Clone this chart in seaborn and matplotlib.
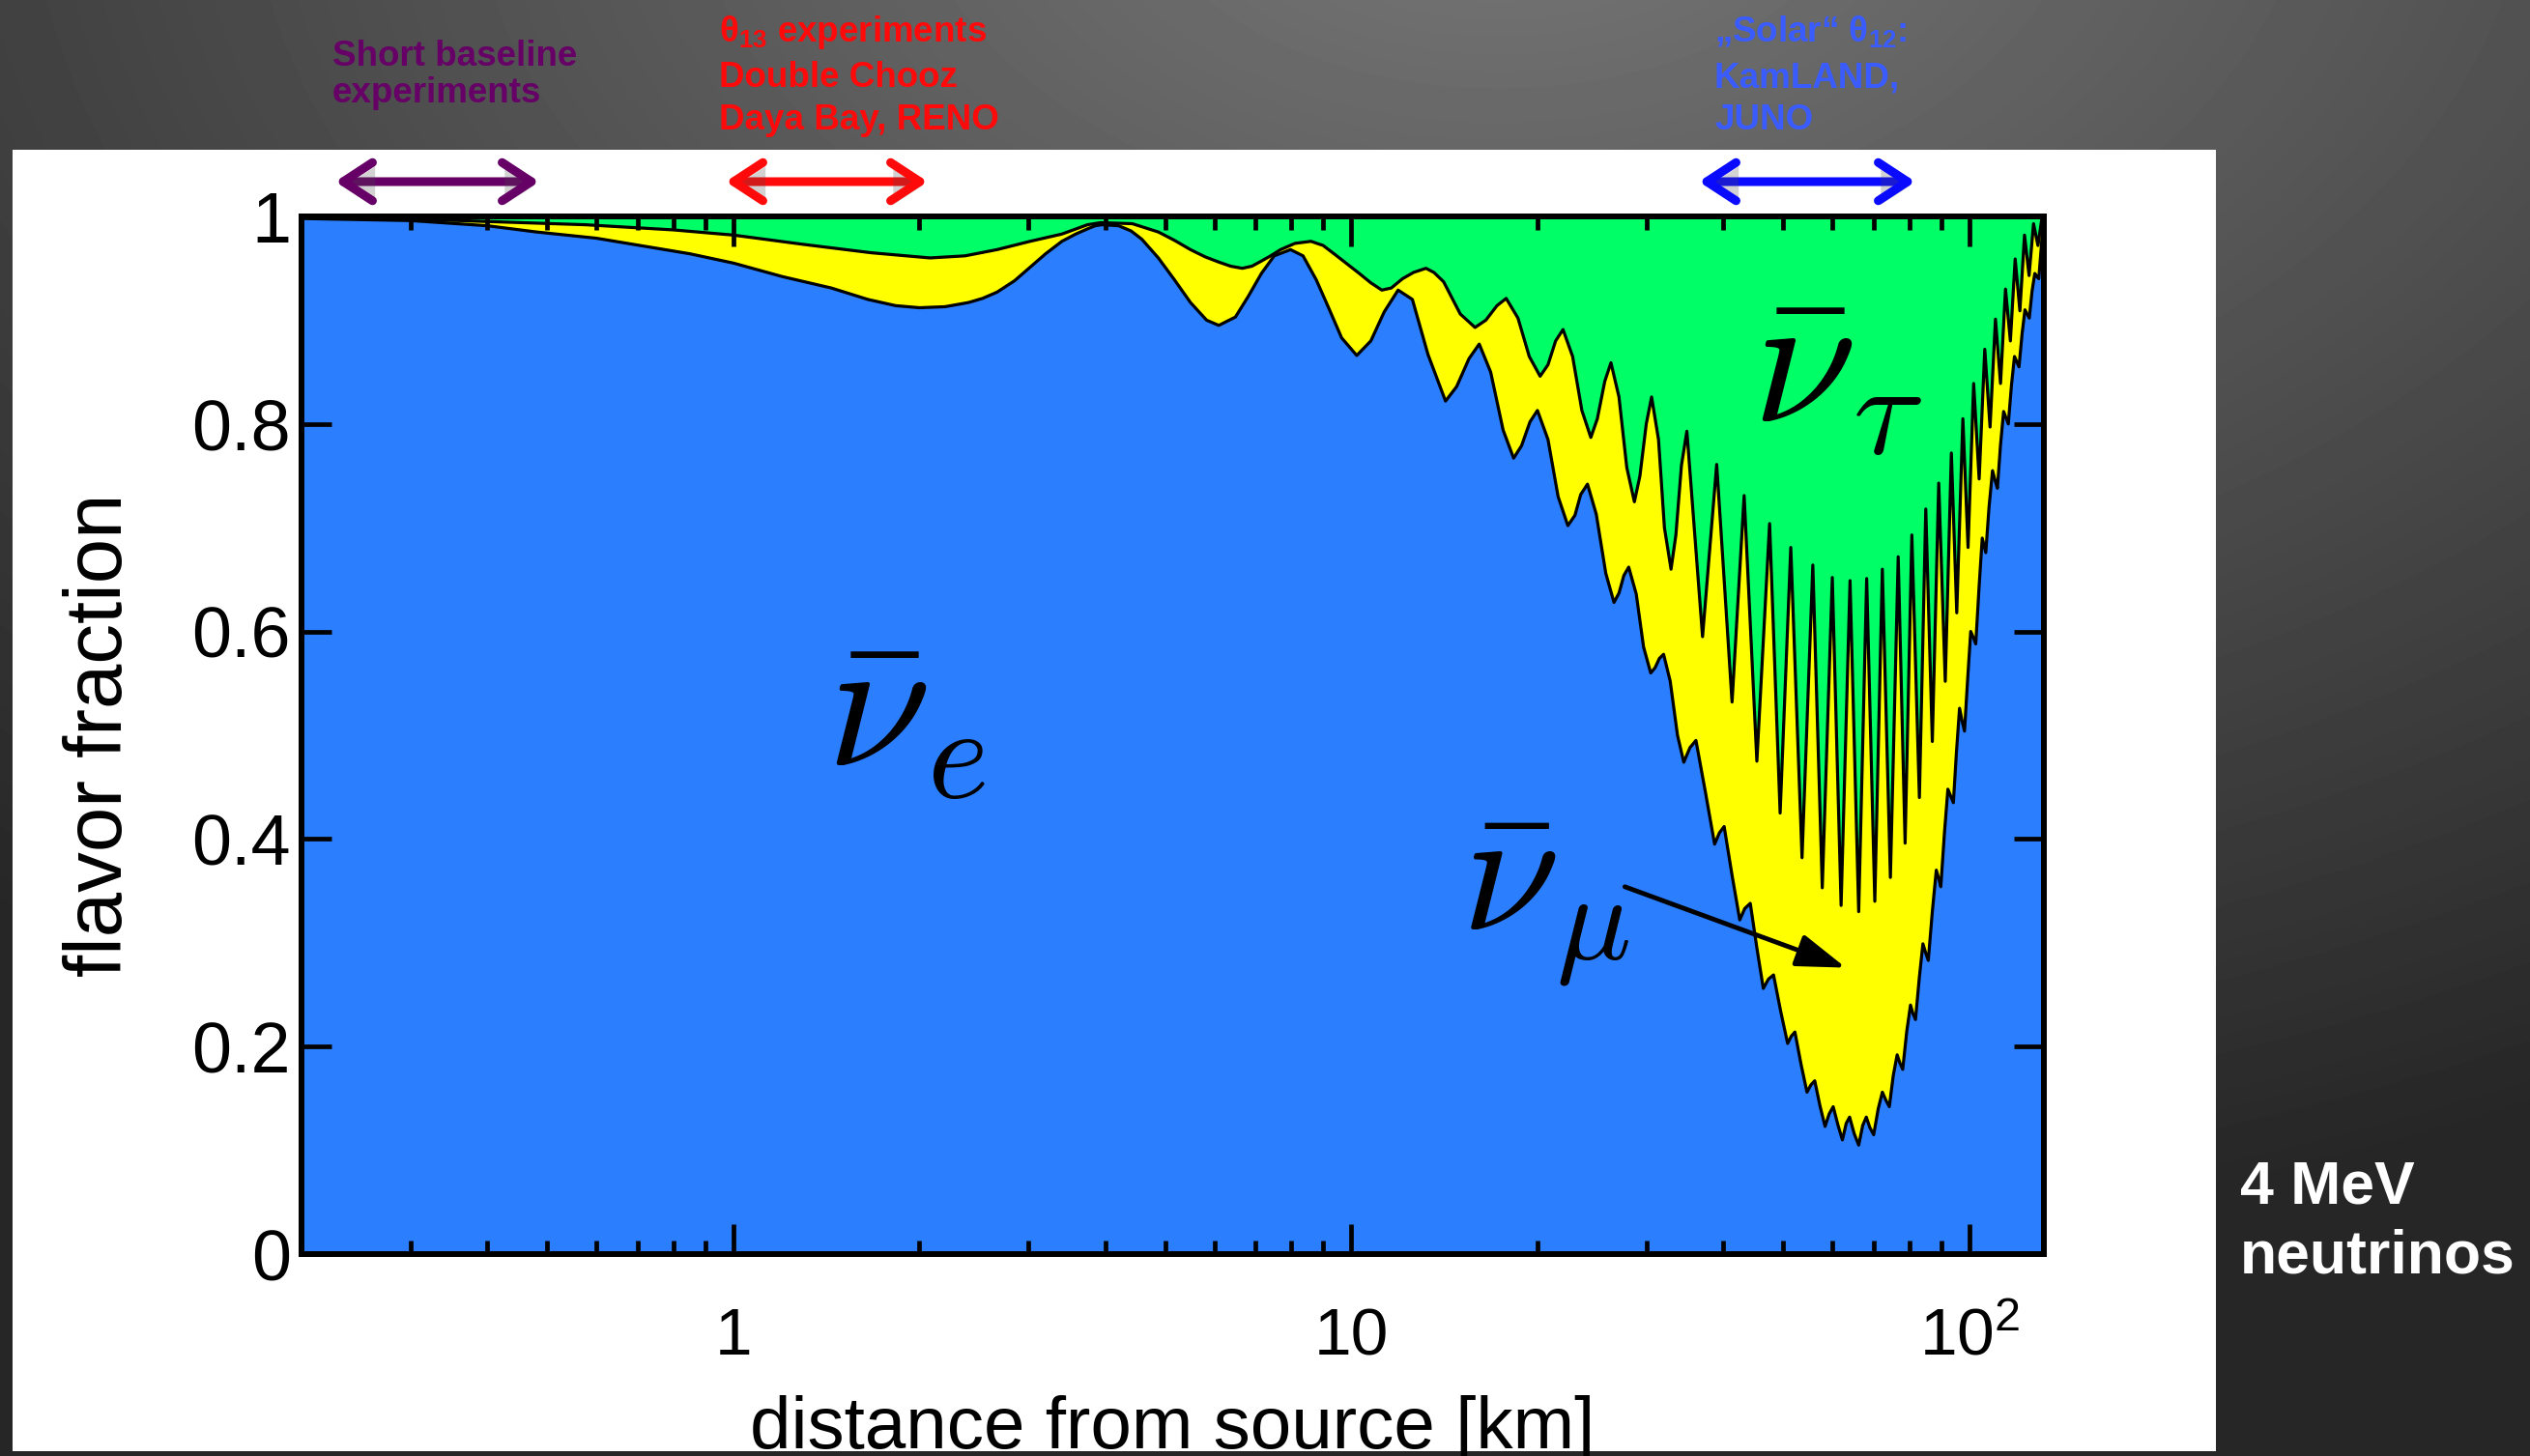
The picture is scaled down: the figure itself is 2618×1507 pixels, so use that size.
import numpy as np
import matplotlib
matplotlib.use("Agg")
import matplotlib.pyplot as plt
import matplotlib.patheffects as pe
import seaborn as sns
from matplotlib.patches import Rectangle
from matplotlib.ticker import FixedLocator, FixedFormatter, NullFormatter

# ---------------------------------------------------------------------------
# Flavor content of a 4 MeV anti-nu_e beam versus baseline
# ---------------------------------------------------------------------------
# lower boundary: anti-nu_e survival fraction
ee_km = [0.20, 0.30, 0.40, 0.48, 0.60, 0.69, 0.85, 1.00, 1.20, 1.44, 1.65, 1.83,
         2.00, 2.20, 2.40, 2.53, 2.67, 2.85, 3.02, 3.20, 3.40, 3.58, 3.74, 3.85,
         3.95, 4.20, 4.40, 4.58, 4.87, 5.17,
         5.49, 5.83, 6.10, 6.49, 6.81, 7.15, 7.50, 7.97, 8.35, 8.77, 9.20, 9.64,
         10.2, 10.75, 11.3, 11.9, 12.55, 13.3, 14.2, 14.8, 15.5, 16.1, 16.8, 17.6,
         18.3, 18.85, 19.45, 20.0, 20.8, 21.6, 22.4, 23.0, 23.5, 24.1, 24.9, 25.8,
         26.6, 27.1, 27.6, 28.1, 28.9, 29.7, 30.5, 31.0, 31.5, 32.0, 32.8, 33.7,
         34.5, 35.3, 36.1, 37.4, 38.7, 39.4, 40.1, 41.3, 42.5, 43.3, 44.2, 45.3,
         46.4, 47.3, 48.2, 49.5, 50.8, 51.5, 52.2, 53.4, 54.6, 55.4, 56.2, 57.3,
         58.4, 59.3, 60.2, 61.3, 62.3, 63.2, 64.0, 65.1, 66.2, 67.2, 68.1, 69.0,
         70.0, 71.2, 72.3, 73.3, 74.2, 75.3, 76.4, 77.2, 78.0, 79.2, 80.3, 81.0,
         81.8, 83.0, 84.1, 85.0, 85.8, 87.1, 88.4, 89.2, 89.9, 91.1, 92.3, 93.3,
         94.2, 95.3, 96.4, 97.3, 98.2, 99.4, 100.5, 101.5, 102.4, 103.7, 104.9,
         105.6, 106.3, 107.6, 109.0, 110.0, 111.0, 112.3, 113.6, 114.6, 115.6,
         117.0, 118.3, 119.3, 120.3, 121.7, 123.0, 124.0, 125.0, 126.3, 127.6,
         128.6, 129.5, 130.5, 131.3, 132.0]
ee_frac = [0.998, 0.996, 0.991, 0.985, 0.979, 0.973, 0.964, 0.955, 0.942, 0.931, 0.920, 0.914,
           0.912, 0.913, 0.917, 0.921, 0.927, 0.938, 0.951, 0.964, 0.976, 0.983, 0.988, 0.991,
           0.992, 0.991, 0.986, 0.978, 0.960, 0.939,
           0.917, 0.900, 0.895, 0.903, 0.923, 0.945, 0.962, 0.968, 0.962, 0.939, 0.911, 0.883,
           0.866, 0.880, 0.908, 0.929, 0.920, 0.867, 0.822, 0.836, 0.863, 0.877, 0.850, 0.794,
           0.767, 0.779, 0.802, 0.813, 0.785, 0.730, 0.702, 0.712, 0.732, 0.742, 0.713, 0.656,
           0.628, 0.637, 0.654, 0.662, 0.636, 0.585, 0.560, 0.565, 0.574, 0.578, 0.552, 0.500,
           0.474, 0.488, 0.495, 0.445, 0.395, 0.406, 0.412, 0.365, 0.322, 0.333, 0.338, 0.295,
           0.256, 0.265, 0.269, 0.234, 0.203, 0.210, 0.214, 0.183, 0.156, 0.163, 0.167, 0.143,
           0.123, 0.135, 0.142, 0.124, 0.110, 0.126, 0.132, 0.116, 0.105, 0.124, 0.132, 0.122,
           0.115, 0.140, 0.156, 0.148, 0.142, 0.172, 0.192, 0.184, 0.178, 0.215, 0.240, 0.232,
           0.226, 0.267, 0.299, 0.290, 0.283, 0.330, 0.370, 0.362, 0.354, 0.405, 0.448, 0.441,
           0.435, 0.484, 0.526, 0.514, 0.504, 0.556, 0.600, 0.594, 0.588, 0.644, 0.690,
           0.683, 0.676, 0.720, 0.755, 0.746, 0.738, 0.780, 0.812, 0.806, 0.800,
           0.838, 0.865, 0.860, 0.855, 0.887, 0.910, 0.906, 0.902, 0.928, 0.945,
           0.942, 0.940, 0.965, 0.985, 0.995]

# upper boundary: anti-nu_e + anti-nu_mu (everything below the anti-nu_tau share)
emu_km = [0.20, 0.36, 0.575, 0.80, 1.00, 1.30, 1.67, 2.08, 2.37, 2.67, 3.02, 3.40,
          3.74, 3.93, 4.42, 4.87, 5.17, 5.49, 5.80, 6.10, 6.38, 6.66, 6.90, 7.15,
          7.40, 7.68, 8.10, 8.60, 9.00, 9.42, 9.85, 10.3, 10.75,
          11.2, 11.6, 12.1, 12.6, 13.2, 13.6, 14.1, 15.0, 15.85, 16.5, 17.2, 17.8, 18.6, 19.4, 20.2,
          20.8, 21.4, 22.0, 22.8, 23.6, 24.4, 25.0, 25.7, 26.3, 27.1, 27.9, 28.7,
          29.3, 30.0, 30.6, 31.4, 32.1, 32.9, 33.5, 34.2, 34.9, 37.0, 39.0, 41.3,
          43.2, 45.3, 47.5, 49.4, 51.4, 53.6, 55.8, 57.8, 60.0, 62.0, 64.1, 66.2,
          68.2, 70.3, 72.3, 74.5, 76.7, 78.7, 80.7, 83.0, 85.0, 87.1, 89.2, 91.4,
          93.5, 95.4, 97.6, 99.5, 101.6, 103.7, 105.9, 108.0, 110.2, 112.3, 114.4,
          116.5, 118.6, 120.7, 122.8, 124.9, 127.0, 129.1, 131.0, 132.0]
emu_frac = [0.999, 0.996, 0.992, 0.987, 0.982, 0.973, 0.965, 0.960, 0.962, 0.968, 0.976, 0.983,
            0.992, 0.994, 0.993, 0.985, 0.977, 0.968, 0.961, 0.956, 0.952, 0.950, 0.952, 0.957,
            0.962, 0.968, 0.974, 0.976, 0.972, 0.963, 0.954, 0.945, 0.936,
            0.929, 0.931, 0.940, 0.946, 0.950, 0.946, 0.937, 0.906, 0.893, 0.900, 0.914, 0.921, 0.902, 0.865, 0.846,
            0.857, 0.880, 0.891, 0.865, 0.813, 0.787, 0.805, 0.841, 0.859, 0.826, 0.758, 0.725,
            0.750, 0.800, 0.826, 0.785, 0.700, 0.660, 0.693, 0.760, 0.793, 0.595, 0.761, 0.532,
            0.731, 0.475, 0.704, 0.425, 0.681, 0.382, 0.664, 0.353, 0.652, 0.336, 0.649, 0.330,
            0.651, 0.340, 0.660, 0.363, 0.672, 0.396, 0.693, 0.440, 0.718, 0.494, 0.743, 0.552,
            0.772, 0.618, 0.805, 0.681, 0.839, 0.747, 0.872, 0.797, 0.901, 0.839, 0.930,
            0.880, 0.959, 0.909, 0.982, 0.943, 0.993, 0.972, 0.998, 0.999]

x_major = [1, 10, 100]
x_major_labels = ["1", "10", r"$10^{2}$"]
x_minor = [0.3, 0.4, 0.5, 0.6, 0.7, 0.8, 0.9, 2, 3, 4, 5, 6, 7, 8, 9,
           20, 30, 40, 50, 60, 70, 80, 90]
y_major = [0, 0.2, 0.4, 0.6, 0.8, 1.0]
y_major_labels = ["0", "0.2", "0.4", "0.6", "0.8", "1"]

experiment_notes = [
    (["Short baseline", "experiments"], "#660066"),
    ([r"θ$_{\mathbf{13}}$ experiments", "Double Chooz", "Daya Bay, RENO"], "#ff0a0a"),
    ([r"„Solar“ θ$_{\mathbf{12}}$:", "KamLAND,", "JUNO"], "#3a5cff"),
]

BLUE = "#2b7fff"
YELLOW = "#ffff00"
GREEN = "#00ff66"

# ---------------------------------------------------------------------------
sns.set_theme(style="ticks")
plt.rcParams["font.family"] = ["Liberation Sans", "DejaVu Sans"]
plt.rcParams["mathtext.fontset"] = "custom"
plt.rcParams["mathtext.rm"] = "Liberation Sans"
plt.rcParams["mathtext.bf"] = "Liberation Sans:bold"
plt.rcParams["mathtext.it"] = "Liberation Sans:italic"
for key in ["text.color", "axes.labelcolor", "xtick.color", "ytick.color", "axes.edgecolor"]:
    plt.rcParams[key] = "black"

W, H = 2618, 1507
fig = plt.figure(figsize=(W / 100, H / 100), dpi=100)

# slide background: dark grey radial shading with a white plot panel
bg = fig.add_axes([0, 0, 1, 1], zorder=-5)
yy, xx = np.mgrid[0:H:4, 0:W:4]
r = np.hypot((xx - 1550) / 1.6, yy + 150)
shade = np.clip(120 - 0.056 * r, 38, 255) / 255.0
bg.imshow(shade, cmap="gray", vmin=0, vmax=1, extent=(0, W, H, 0),
          interpolation="bilinear", aspect="auto")
bg.set_xlim(0, W)
bg.set_ylim(H, 0)
bg.axis("off")
bg.add_patch(Rectangle((13, 155), 2280, 1347, facecolor="white", edgecolor="none"))

# experiment range markers above the plot
arrow_spans = [(347, 558, "#660066"), (751, 960, "#ff0a0a"), (1758, 1982, "#0a0aff")]
for x0, x1, col in arrow_spans:
    bg.annotate("", xy=(x1, 188), xytext=(x0, 188),
                arrowprops=dict(arrowstyle="<->,head_length=1.45,head_width=0.95",
                                mutation_scale=15, lw=6.5, color=col,
                                shrinkA=0, shrinkB=0, capstyle="round", joinstyle="round",
                                path_effects=[pe.SimplePatchShadow(offset=(2, -3), alpha=0.25),
                                              pe.Normal()]))

note_x = [344, 744, 1774]
note_baselines = [[68, 106], [43, 90, 134], [43, 90, 134]]
for (lines, col), x0, ys in zip(experiment_notes, note_x, note_baselines):
    for line, y0 in zip(lines, ys):
        bg.text(x0, y0, line, color=col, fontsize=26.5, fontweight="bold",
                ha="left", va="baseline")

bg.text(2318, 1245, "4 MeV", color="white", fontsize=45, fontweight="bold",
        ha="left", va="baseline")
bg.text(2318, 1317, "neutrinos", color="white", fontsize=45, fontweight="bold",
        ha="left", va="baseline")

# main stacked flavour plot
ax = fig.add_axes([312 / W, 1 - 1298 / H, (2115 - 312) / W, (1298 - 224) / H])
ax.set_xscale("log")
ax.fill_between([0.2, 132], 0, 1, color=GREEN, lw=0)
ax.fill_between(emu_km, 0, emu_frac, color=YELLOW, lw=0)
ax.fill_between(ee_km, 0, ee_frac, color=BLUE, lw=0)
sns.lineplot(x=np.array(emu_km), y=np.array(emu_frac), sort=False, estimator=None,
             color="black", linewidth=2.3, ax=ax)
sns.lineplot(x=np.array(ee_km), y=np.array(ee_frac), sort=False, estimator=None,
             color="black", linewidth=2.3, ax=ax)
ax.set_xlim(0.2, 132)
ax.set_ylim(0, 1)
ax.set_axisbelow(False)

ax.xaxis.set_major_locator(FixedLocator(x_major))
ax.xaxis.set_major_formatter(FixedFormatter(x_major_labels))
ax.xaxis.set_minor_locator(FixedLocator(x_minor))
ax.xaxis.set_minor_formatter(NullFormatter())
ax.yaxis.set_major_locator(FixedLocator(y_major))
ax.yaxis.set_major_formatter(FixedFormatter(y_major_labels))
ax.tick_params(which="both", direction="in", top=True, right=True, width=3.4, color="black")
ax.tick_params(which="major", length=22, labelsize=50)
ax.tick_params(axis="y", which="major", labelsize=53, pad=8)
ax.tick_params(which="minor", length=10)
ax.tick_params(axis="x", which="major", pad=39)
for s in ax.spines.values():
    s.set_linewidth(4.3)
    s.set_color("black")
    s.set_visible(True)

ax.set_xlabel("distance from source [km]", fontsize=55)
ax.xaxis.set_label_coords(0.5, -0.136)
ax.set_ylabel("flavor fraction", fontsize=60)
ax.yaxis.set_label_coords(-0.094, 0.5)

# flavour labels
ax.text(1.90, 0.517, r"$\bar{\nu}_e$", fontsize=140, math_fontfamily="cm",
        ha="center", va="center")
ax.text(61.1, 0.849, r"$\bar{\nu}_\tau$", fontsize=140, math_fontfamily="cm",
        ha="center", va="center")
ax.text(20.6, 0.336, r"$\bar{\nu}_\mu$", fontsize=132, math_fontfamily="cm",
        ha="center", va="center")
ax.annotate("", xy=(63.1, 0.276), xytext=(27.7, 0.354),
            arrowprops=dict(arrowstyle="-|>,head_length=0.78,head_width=0.26",
                            mutation_scale=40, lw=3.5, color="black",
                            shrinkA=0, shrinkB=0))

fig.savefig("out.png", dpi=100)
